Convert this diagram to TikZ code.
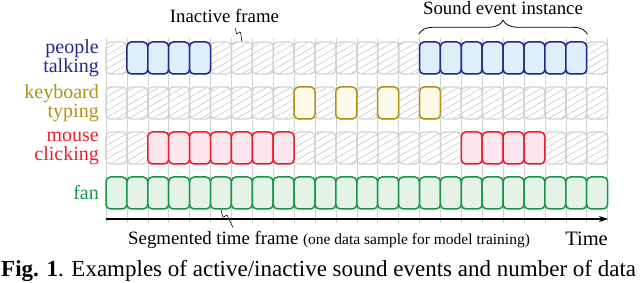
\documentclass[tikz,border=0pt]{standalone}
\usepackage{fontspec}
\setmainfont{Liberation Serif}
\usetikzlibrary{arrows.meta,positioning,patterns.meta,decorations.pathreplacing}
\definecolor{talkblue}{RGB}{35,40,140}
\definecolor{talkfill}{RGB}{222,239,252}
\definecolor{typegold}{RGB}{178,145,20}
\definecolor{typefill}{RGB}{255,251,234}
\definecolor{clickred}{RGB}{232,32,44}
\definecolor{clickfill}{RGB}{252,231,239}
\definecolor{fangreen}{RGB}{22,148,72}
\definecolor{fanfill}{RGB}{228,242,232}
\definecolor{idlegray}{RGB}{210,210,210}

\begin{document}
\begin{tikzpicture}[x=1pt,y=-1pt,
    frame/.style={rounded corners=4.5pt, minimum width=20.9pt,
                  minimum height=32pt, inner sep=0pt, line width=1.5pt},
    idle/.style={frame, draw=idlegray, line width=1.3pt,
                 pattern={Lines[angle=30,distance=6pt,line width=0.6pt]},
                 pattern color=black!22},
    active/.style 2 args={frame, draw=#1, fill=#2},
    rowlabel/.style={anchor=east, align=right, inner sep=0pt,
                     font=\fontsize{20}{19}\selectfont},
    note/.style={inner sep=0pt, font=\fontsize{18.8}{22}\selectfont},
    pointer/.style={black, line width=0.6pt, rounded corners=1pt},
    tick/.style={idlegray, line width=0.6pt}
  ]
  \useasboundingbox (0,0) rectangle (640,283);
  % grid ticks behind the frames
  \foreach \k in {0,...,24}
    \draw[tick] (106+20.9*\k,38) -- (106+20.9*\k,223);
  % inactive frames
  \foreach \r/\y in {talk/58,type/103,click/148}
    \foreach \i in {0,...,23}
      \node[idle] (\r\i) at (116.45+20.9*\i,\y) {};
  % active frames
  \foreach \i in {1,2,3,4,15,16,17,18,19,20,21,22}
    \node[active={talkblue}{talkfill}] (talkon\i) at (116.45+20.9*\i,58) {};
  \foreach \i in {9,11,13,15}
    \node[active={typegold}{typefill}] (typeon\i) at (116.45+20.9*\i,103) {};
  \foreach \i in {2,3,4,5,6,7,8,17,18,19,20}
    \node[active={clickred}{clickfill}] (clickon\i) at (116.45+20.9*\i,148) {};
  \foreach \i in {0,...,23}
    \node[active={fangreen}{fanfill}] (fan\i) at (116.45+20.9*\i,193) {};
  % row labels
  \node[rowlabel, text=talkblue] (talklabel) at (99,58) {people\\talking};
  \node[rowlabel, text=typegold] (typelabel) at (99,103) {keyboard\\typing};
  \node[rowlabel, text=clickred] (clicklabel) at (99,148) {mouse\\clicking};
  \node[rowlabel, text=fangreen] (fanlabel) at (99,193) {fan};
  % time axis
  \coordinate (tstart) at (106,219);
  \coordinate (tend) at (608,219);
  \draw[line width=1.3pt, -{Stealth[length=9pt,width=6pt]}] (tstart) -- (tend);
  % annotations
  \node[note, anchor=base] (inactlabel) at (224.5,23) {Inactive frame};
  \draw[pointer] ([xshift=11pt,yshift=-5pt]inactlabel.south) -- ++(1,6) -- ++(4,-3) -- (talk6.north);
  \draw[decorate, decoration={brace, amplitude=14pt}, line width=0.8pt]
    ([yshift=7pt]talkon15.north west) -- ([yshift=7pt]talkon22.north east);
  \node[note, anchor=base] (eventlabel) at (503,15) {Sound event instance};
  \node[note, anchor=base west] (seglabel) at (128,245)
    {Segmented time frame {\fontsize{15.5}{18}\selectfont (one data sample for model training)}};
  \draw[pointer] (fan5.south) -- ++(2,8) -- ++(4,-3) -- ([xshift=105pt,yshift=4pt]seglabel.north west);
  \node[note, anchor=base east, font=\fontsize{20.5}{24}\selectfont] (timelabel) at (608,246) {Time};
  % caption
  \node[anchor=base west, inner sep=0pt, font=\fontsize{23}{27}\selectfont] (caption) at (1,276.5)
    {\textbf{Fig. 1}. Examples of active/inactive sound events and number of data};
\end{tikzpicture}
\end{document}
